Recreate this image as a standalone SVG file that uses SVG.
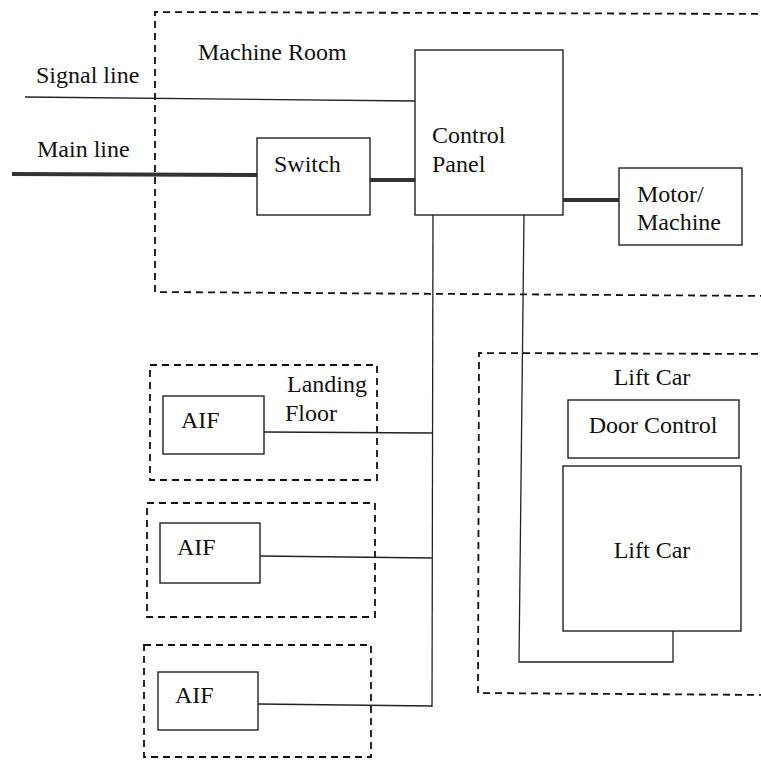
<svg xmlns="http://www.w3.org/2000/svg" width="761" height="760" viewBox="0 0 761 760">
  <style>
    .zone { fill: none; stroke: #111; stroke-width: 1.8; stroke-dasharray: 7 5; }
    .box { fill: #fff; stroke: #222; stroke-width: 1.4; }
    .wire { fill: none; stroke: #222; stroke-width: 1.3; }
    .power { fill: none; stroke: #333; stroke-width: 4; }
    .lbl { font-family: "Liberation Serif", "DejaVu Serif", serif; font-size: 24px; fill: #111; }
  </style>
  <rect width="761" height="760" fill="#fff"/>

  <!-- areas -->
  <g id="machine-room">
    <path class="zone" d="M770,14 L155,12 L155,292 L770,296"/>
    <text class="lbl" x="198" y="60">Machine Room</text>
  </g>
  <g id="lift-car-area">
    <path class="zone" d="M770,354 L479,353 L478,693 L770,695"/>
    <text class="lbl" x="652" y="385" text-anchor="middle">Lift Car</text>
  </g>
  <g id="landing-floor-1">
    <rect class="zone" x="150" y="365" width="227" height="115"/>
    <text class="lbl" x="287" y="392">Landing</text>
    <text class="lbl" x="285" y="421">Floor</text>
  </g>
  <g id="landing-floor-2">
    <rect class="zone" x="147" y="503" width="228" height="114"/>
  </g>
  <g id="landing-floor-3">
    <rect class="zone" x="144" y="645" width="227" height="112"/>
  </g>

  <!-- incoming lines -->
  <g id="signal-line">
    <text class="lbl" x="36" y="83">Signal line</text>
  </g>
  <g id="main-line">
    <text class="lbl" x="37" y="157">Main line</text>
  </g>

  <!-- connectors -->
  <g id="connectors">
    <line class="wire" x1="25" y1="97" x2="415" y2="101"/>
    <line class="power" x1="12" y1="174" x2="257" y2="175"/>
    <line class="power" x1="370" y1="180" x2="415" y2="180"/>
    <line class="power" x1="563" y1="200" x2="619" y2="200"/>
    <line class="wire" x1="433" y1="215" x2="432" y2="707"/>
    <line class="wire" x1="264" y1="432" x2="432" y2="433"/>
    <line class="wire" x1="260" y1="556" x2="432" y2="558"/>
    <line class="wire" x1="258" y1="704" x2="432" y2="706"/>
    <polyline class="wire" points="524,215 519,662 673,662 673,631"/>
  </g>

  <!-- nodes -->
  <g id="switch">
    <rect class="box" x="257" y="138" width="113" height="77"/>
    <text class="lbl" x="274" y="172">Switch</text>
  </g>
  <g id="control-panel">
    <rect class="box" x="415" y="50" width="148" height="165"/>
    <text class="lbl" x="432" y="143">Control</text>
    <text class="lbl" x="432" y="172">Panel</text>
  </g>
  <g id="motor-machine">
    <rect class="box" x="619" y="168" width="123" height="77"/>
    <text class="lbl" x="637" y="202">Motor/</text>
    <text class="lbl" x="637" y="230">Machine</text>
  </g>
  <g id="door-control">
    <rect class="box" x="568" y="400" width="171" height="58"/>
    <text class="lbl" x="653" y="433" text-anchor="middle">Door Control</text>
  </g>
  <g id="lift-car">
    <rect class="box" x="563" y="466" width="178" height="165"/>
    <text class="lbl" x="652" y="558" text-anchor="middle">Lift Car</text>
  </g>
  <g id="aif-1">
    <rect class="box" x="163" y="396" width="101" height="58"/>
    <text class="lbl" x="181" y="428">AIF</text>
  </g>
  <g id="aif-2">
    <rect class="box" x="160" y="523" width="100" height="60"/>
    <text class="lbl" x="177" y="555">AIF</text>
  </g>
  <g id="aif-3">
    <rect class="box" x="158" y="672" width="100" height="58"/>
    <text class="lbl" x="175" y="703">AIF</text>
  </g>
</svg>
